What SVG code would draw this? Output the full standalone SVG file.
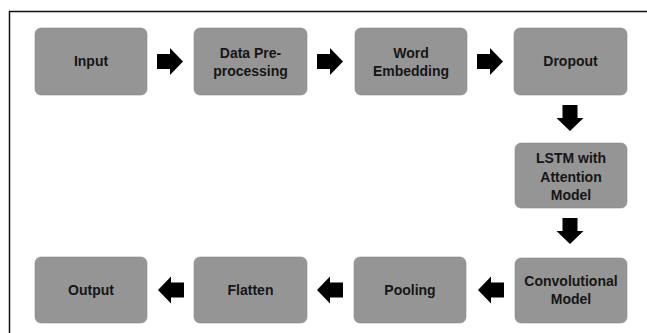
<svg xmlns="http://www.w3.org/2000/svg" width="647" height="333" viewBox="0 0 647 333">
<style>
.box{fill:#959595;stroke:#8a8a8a;stroke-width:0.6}
.t{font-family:"Liberation Sans",Arial,sans-serif;font-weight:bold;font-size:14px;fill:#161616;text-anchor:middle}
.ar{fill:#000}
</style>
<rect width="647" height="333" fill="#fff"/>
<path d="M9.5 333 V11.5 H647" fill="none" stroke="#111" stroke-width="1.5"/>
<g id="input"><rect class="box" x="35" y="28" width="112" height="67" rx="6"/><text class="t" x="91" y="66">Input</text></g>
<g id="preprocessing"><rect class="box" x="194" y="28" width="113" height="67" rx="6"/><text class="t" x="250.5" y="58">Data Pre-</text><text class="t" x="250.5" y="76">processing</text></g>
<g id="embedding"><rect class="box" x="355" y="28" width="112" height="67" rx="6"/><text class="t" x="411" y="58">Word</text><text class="t" x="411" y="76">Embedding</text></g>
<g id="dropout"><rect class="box" x="514" y="28" width="113" height="67" rx="6"/><text class="t" x="570.5" y="66">Dropout</text></g>
<g id="lstm"><rect class="box" x="515" y="143" width="112" height="65" rx="6"/><text class="t" x="571" y="163">LSTM with</text><text class="t" x="571" y="181.5">Attention</text><text class="t" x="571" y="200">Model</text></g>
<g id="conv"><rect class="box" x="515" y="258" width="112" height="65" rx="6"/><text class="t" x="571" y="286">Convolutional</text><text class="t" x="571" y="304">Model</text></g>
<g id="pooling"><rect class="box" x="354" y="257" width="112" height="66" rx="6"/><text class="t" x="410" y="295">Pooling</text></g>
<g id="flatten"><rect class="box" x="194" y="257" width="113" height="66" rx="6"/><text class="t" x="250.5" y="295">Flatten</text></g>
<g id="output"><rect class="box" x="35" y="257" width="112" height="66" rx="6"/><text class="t" x="91" y="295">Output</text></g>
<g id="connectors">
<defs><path id="ra" d="M0 -7.5 H13 V-13.5 L26 0 L13 13.5 V7.5 H0 Z"/></defs>
<use href="#ra" class="ar" x="157" y="61.5"/>
<use href="#ra" class="ar" x="317" y="61.5"/>
<use href="#ra" class="ar" x="477" y="61.5"/>
<use href="#ra" class="ar" transform="translate(570 105) rotate(90)"/>
<use href="#ra" class="ar" transform="translate(570 218) rotate(90)"/>
<use href="#ra" class="ar" transform="translate(504 290) rotate(180)"/>
<use href="#ra" class="ar" transform="translate(343 290) rotate(180)"/>
<use href="#ra" class="ar" transform="translate(184 290) rotate(180)"/>
</g>
</svg>
